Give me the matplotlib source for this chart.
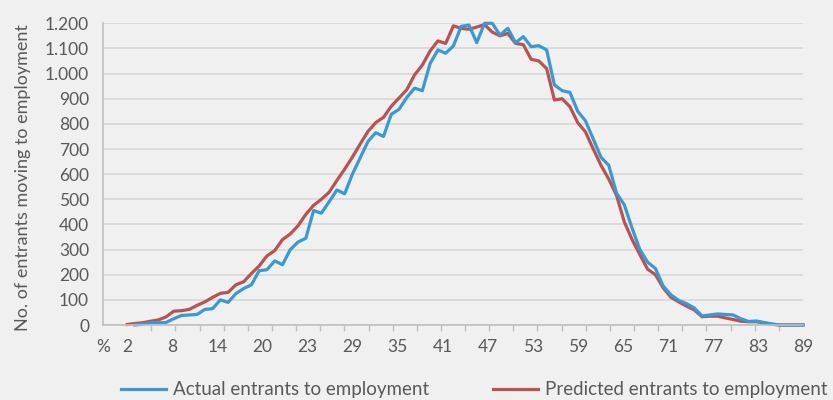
import numpy as np
import matplotlib.pyplot as plt

# share of ... (%) - one point per percent
pct = list(range(2, 90))

actual = [np.nan, 0, 3, 9, 9, 10, 25, 38, 40, 42, 62, 65, 100, 90, 125, 145, 160, 216, 220, 255,
          240, 300, 330, 345, 455, 445, 490, 537, 522, 600, 665, 730, 765, 750, 838, 858, 905, 942,
          932, 1040, 1094, 1081, 1110, 1188, 1193, 1123, 1200, 1200, 1153, 1180, 1123, 1147, 1107,
          1111, 1094, 955, 932, 925, 850, 812, 740, 667, 635, 524, 478, 385, 300, 250, 225, 155, 120,
          98, 85, 68, 36, 40, 44, 42, 40, 25, 14, 16, 10, 4, 0, 0, 0, 0]

predicted = [2, 6, 9, 15, 20, 32, 55, 57, 62, 78, 92, 110, 126, 130, 160, 172, 205, 235, 275, 296,
             340, 362, 395, 440, 476, 500, 528, 575, 620, 668, 720, 770, 805, 826, 870, 903, 936, 995,
             1034, 1090, 1130, 1120, 1190, 1180, 1176, 1185, 1195, 1165, 1150, 1160, 1120, 1115, 1057,
             1050, 1020, 895, 900, 868, 805, 768, 700, 635, 580, 515, 410, 340, 280, 222, 200, 148, 110,
             92, 75, 60, 33, 35, 35, 28, 22, 15, 13, 13, 8, 3, 0, 0, 0, 0]

xlabels = ['2', '8', '14', '20', '23', '29', '35', '41', '47', '53', '59', '65', '71', '77', '83', '89']
yticks = [0, 100, 200, 300, 400, 500, 600, 700, 800, 900, 1000, 1100, 1200]

blue = '#339BD8'
red = '#C0504D'
txt = '#595959'
bg = '#F0F0F0'

plt.rcParams['font.family'] = ['Lato', 'DejaVu Sans']

fig = plt.figure(figsize=(8.33, 4.0), dpi=100, facecolor=bg)
ax = fig.add_axes([103 / 833, 1 - 325 / 400, 700 / 833, (325 - 23.3) / 400], facecolor=bg)

l2, = ax.plot(pct, predicted, color=red, lw=2.3, clip_on=False, solid_joinstyle='round')
l1, = ax.plot(pct, actual, color=blue, lw=2.3, clip_on=False, solid_joinstyle='round')

xmin = 2 - 87 / 28
ax.set_xlim(xmin, 89)
ax.set_ylim(0, 1200)

ax.set_yticks(yticks)
ax.set_yticklabels([f'{v:,}'.replace(',', '.') for v in yticks])
ax.yaxis.grid(True, color='#D9D9D9', lw=1.3)
ax.set_axisbelow(True)

ax.set_xticks([xmin] + list(np.linspace(2, 89, len(xlabels))))
ax.set_xticklabels(['%'] + xlabels)
ax.set_xticks(np.linspace(xmin, 89, 30), minor=True)
ax.tick_params(axis='x', which='major', length=0, pad=10, labelsize=12.5, colors=txt)
ax.tick_params(axis='x', which='minor', length=4, width=1, color='#BFBFBF')
ax.tick_params(axis='y', length=0, pad=10, labelsize=12.5, colors=txt)

for s in ['top', 'right']:
    ax.spines[s].set_visible(False)
for s in ['left', 'bottom']:
    ax.spines[s].set_color('#BFBFBF')
    ax.spines[s].set_linewidth(1.2)

ax.set_ylabel('No. of entrants moving to employment', fontsize=13, color=txt)
ax.yaxis.set_label_coords(-0.103, 0.49)

fig.legend([l1, l2], ['Actual entrants to employment', 'Predicted entrants to employment'],
           loc='lower left', bbox_to_anchor=(121 / 833, 0.004), ncol=2, frameon=False,
           borderaxespad=0, borderpad=0,
           fontsize=13.5, labelcolor=txt, handlelength=2.4, handletextpad=0.37, columnspacing=3.4)

fig.savefig('out.png', dpi=100, facecolor=bg)
